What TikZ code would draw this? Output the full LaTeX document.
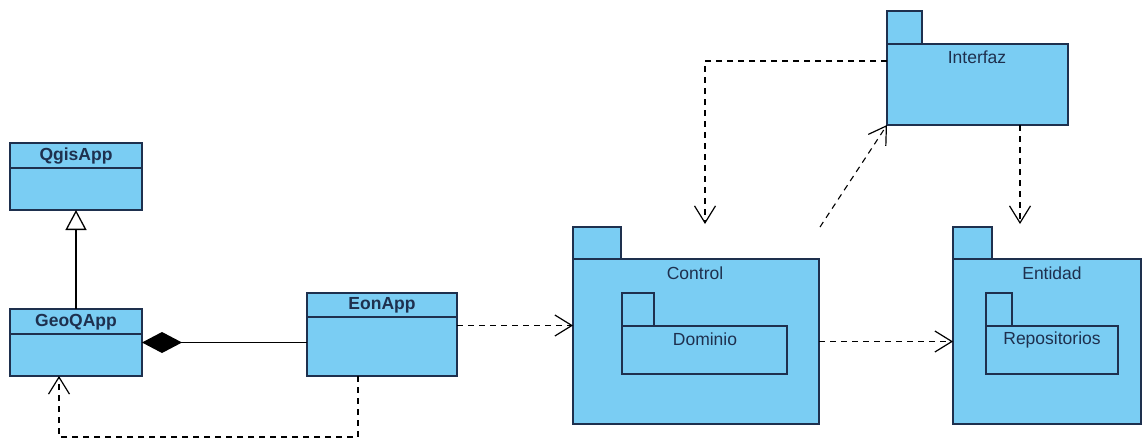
\documentclass[tikz,border=0pt]{standalone}
\usepackage{fontspec}
\setmainfont{Liberation Sans}
\usetikzlibrary{arrows.meta}
\definecolor{pkgfill}{RGB}{122,205,243}
\definecolor{ink}{RGB}{30,48,78}
\begin{document}
\begin{tikzpicture}[x=1pt,y=-1pt,
  umlbox/.style={rectangle, draw=ink, fill=pkgfill, line width=1.3pt, inner sep=0pt, outer sep=0pt, anchor=north west},
  lbl/.style={text=ink, inner sep=0pt, font=\fontsize{17.5}{20}\selectfont},
  clsname/.style={text=ink, inner sep=0pt, font=\fontsize{17.5}{20}\selectfont\bfseries},
  divider/.style={draw=ink, line width=1.3pt},
  dep/.style={draw=black, line width=1.1pt, dash pattern=on 6pt off 5pt,
    -{Straight Barb[length=17pt,width=21pt,line width=1.2pt]}},
  solidlink/.style={draw=black, line width=1.3pt},
]
\useasboundingbox (0,0) rectangle (1142,442);

% ---- classes ----
\node[umlbox, minimum width=132pt, minimum height=67pt] (q) at (10,143) {};
\draw[divider] ([yshift=-25pt]q.north west) -- ([yshift=-25pt]q.north east);
\node[clsname] (qn) at ([yshift=-13pt]q.north) {QgisApp};

\node[umlbox, minimum width=132pt, minimum height=67pt] (g) at (10,309) {};
\draw[divider] ([yshift=-25pt]g.north west) -- ([yshift=-25pt]g.north east);
\node[clsname] (gn) at ([yshift=-13pt]g.north) {GeoQApp};

\node[umlbox, minimum width=150pt, minimum height=83pt] (e) at (307,293) {};
\draw[divider] ([yshift=-24pt]e.north west) -- ([yshift=-24pt]e.north east);
\node[clsname] (en) at ([yshift=-12.5pt]e.north) {EonApp};

% ---- packages ----
\node[umlbox, minimum width=48pt, minimum height=32pt] (ctab) at (573,227) {};
\node[umlbox, minimum width=246pt, minimum height=165pt] (cbody) at (573,259) {};
\node[lbl] (cn) at (695,273) {Control};
\node[umlbox, minimum width=32pt, minimum height=33pt] (dtab) at (622,293) {};
\node[umlbox, minimum width=165pt, minimum height=48pt] (dbody) at (622,326) {};
\node[lbl] (dn) at (705,339) {Dominio};

\node[umlbox, minimum width=35pt, minimum height=33pt] (itab) at (887,11) {};
\node[umlbox, minimum width=181pt, minimum height=81pt] (ibody) at (887,44) {};
\node[lbl] (inm) at (977,57) {Interfaz};

\node[umlbox, minimum width=39pt, minimum height=32pt] (etab) at (953,227) {};
\node[umlbox, minimum width=188pt, minimum height=165pt] (ebody) at (953,259) {};
\node[lbl] (entn) at (1052,273) {Entidad};
\node[umlbox, minimum width=26pt, minimum height=33pt] (rtab) at (986,293) {};
\node[umlbox, minimum width=132pt, minimum height=48pt] (rbody) at (986,326) {};
\node[lbl] (rn) at (1052,340) {Repositorios};

% ---- class relations ----
\draw[solidlink, -{Triangle[open, length=20pt, width=21pt, fill=white]}] (g.north) -- (q.south);
\draw[solidlink, {Diamond[length=40pt, width=21pt]}-] (g.east) -- (g.east -| e.west);

\coordinate (loop) at (200,437);
\draw[dep] ([xshift=-24pt]e.south) |- (loop) -| ([xshift=-17pt]g.south);
\draw[dep] ([yshift=9pt]e.east) -- ([yshift=9pt]e.east -| cbody.west);

% ---- package dependencies ----
\draw[dep] (cbody.east) -- (ebody.west);

\coordinate (ctop) at (705,224);
\draw[dep] ([yshift=23.5pt]ibody.west) -| (ctop);

\coordinate (cout) at (820,227);
\draw[dep] (cout) -- (ibody.south west);

\coordinate (etop) at (1020,224);
\draw[dep] (ibody.south -| etop) -- (etop);
\end{tikzpicture}
\end{document}
